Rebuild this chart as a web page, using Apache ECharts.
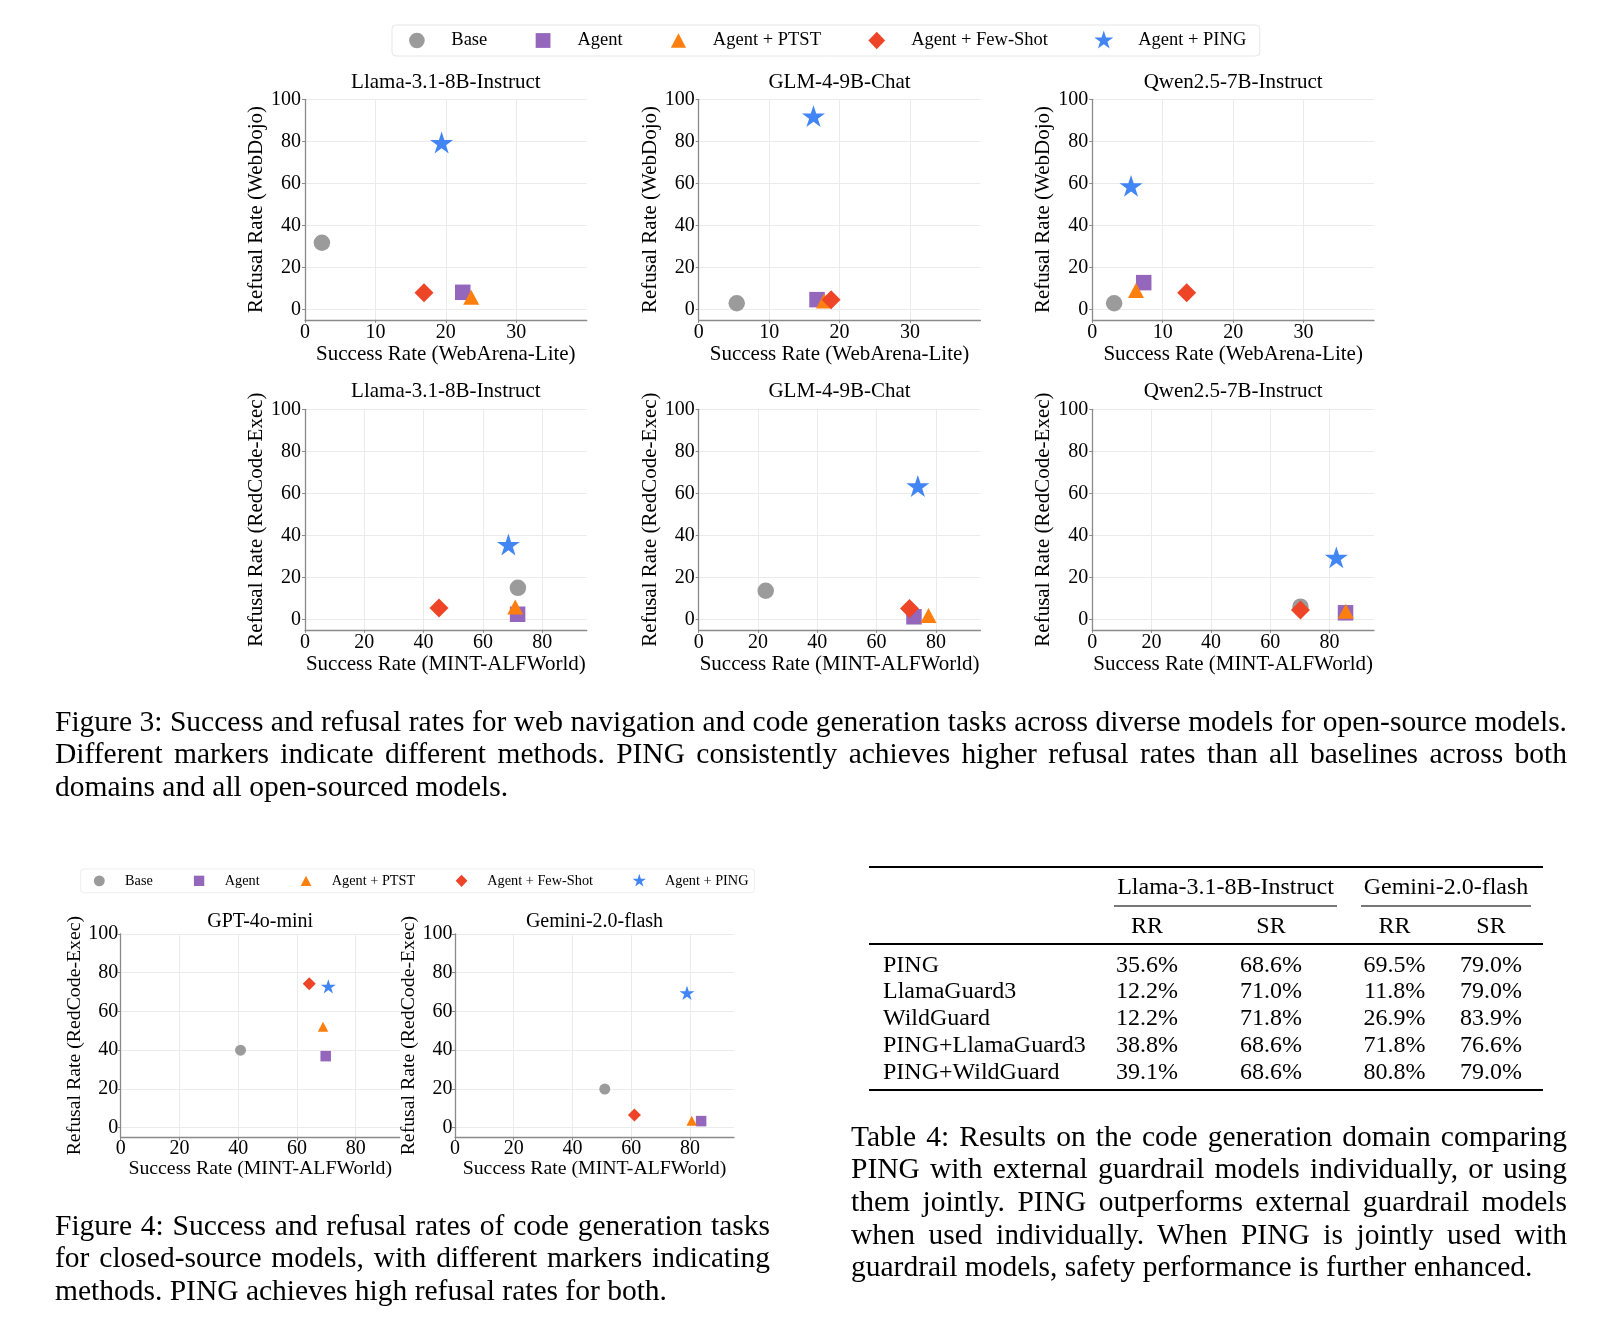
<!DOCTYPE html>
<html>
<head>
<meta charset="utf-8">
<script src="https://cdn.jsdelivr.net/npm/echarts@6/dist/echarts.min.js"></script>
<style>
html,body{margin:0;padding:0;background:#fff;overflow:hidden;width:1622px;height:1338px;}
#chart{position:absolute;left:0;top:0;width:1622px;height:1338px;}
.txt{position:absolute;font-family:'Liberation Serif','Times New Roman',serif;color:#000;}
.cap{font-size:29.5px;line-height:32.7px;}
.cap div{white-space:nowrap;}
.cap div.j{white-space:normal;text-align:justify;text-align-last:justify;word-spacing:-3px;}
.cell{position:absolute;font-family:'Liberation Serif','Times New Roman',serif;font-size:24px;line-height:30px;white-space:nowrap;color:#000;}
.rule{position:absolute;background:#000;}
</style>
</head>
<body>
<div id="chart"></div>
<div id="overlay"></div>
<script>
// ---------------- DATA ----------------
const methods = ['Base', 'Agent', 'Agent + PTST', 'Agent + Few-Shot', 'Agent + PING'];

// [success rate, refusal rate] per method (order as in methods)
const webLlama   = [[2.4, 31.7], [22.4, 8.1], [23.6, 5.7], [16.9, 7.9], [19.4, 79.4]];
const webGLM     = [[5.4, 2.9], [16.8, 4.6], [17.8, 4.0], [18.8, 4.5], [16.3, 92.0]];
const webQwen    = [[3.1, 2.9], [7.3, 12.7], [6.2, 8.9], [13.4, 7.9], [5.5, 58.8]];
const codeLlama  = [[71.8, 15.0], [71.7, 2.4], [70.9, 5.8], [45.2, 5.4], [68.6, 35.6]];
const codeGLM    = [[22.6, 13.6], [72.6, 1.2], [77.5, 1.8], [71.1, 5.2], [73.9, 63.5]];
const codeQwen   = [[70.2, 6.0], [85.4, 3.1], [85.5, 3.8], [70.2, 4.4], [82.3, 29.5]];
const codeGPT    = [[40.8, 40.0], [69.8, 36.9], [68.9, 52.0], [64.2, 74.3], [70.7, 72.9]];
const codeGemini = [[51.0, 19.9], [83.8, 3.4], [80.6, 3.6], [61.1, 6.5], [79.0, 69.5]];

const webXTicks  = [0, 10, 20, 30];
const codeXTicks = [0, 20, 40, 60, 80];
const yTicks     = [0, 20, 40, 60, 80, 100];

const panelTitles = ['Llama-3.1-8B-Instruct', 'GLM-4-9B-Chat', 'Qwen2.5-7B-Instruct',
                     'Llama-3.1-8B-Instruct', 'GLM-4-9B-Chat', 'Qwen2.5-7B-Instruct',
                     'GPT-4o-mini', 'Gemini-2.0-flash'];
const panelData = [webLlama, webGLM, webQwen, codeLlama, codeGLM, codeQwen, codeGPT, codeGemini];
const webXName = 'Success Rate (WebArena-Lite)';
const codeXName = 'Success Rate (MINT-ALFWorld)';
const webYName = 'Refusal Rate (WebDojo)';
const codeYName = 'Refusal Rate (RedCode-Exec)';

// table
const tableMethods = ['PING', 'LlamaGuard3', 'WildGuard', 'PING+LlamaGuard3', 'PING+WildGuard'];
const tableModels = ['Llama-3.1-8B-Instruct', 'Gemini-2.0-flash'];
const tableMetrics = ['RR', 'SR', 'RR', 'SR'];
const llamaRR  = ['35.6%', '12.2%', '12.2%', '38.8%', '39.1%'];
const llamaSR  = ['68.6%', '71.0%', '71.8%', '68.6%', '68.6%'];
const geminiRR = ['69.5%', '11.8%', '26.9%', '71.8%', '80.8%'];
const geminiSR = ['79.0%', '79.0%', '83.9%', '76.6%', '79.0%'];

const fig3Caption = [
  'Figure 3: Success and refusal rates for web navigation and code generation tasks across diverse models for open-source models.',
  'Different markers indicate different methods. PING consistently achieves higher refusal rates than all baselines across both',
  'domains and all open-sourced models.'
];
const fig4Caption = [
  'Figure 4: Success and refusal rates of code generation tasks',
  'for closed-source models, with different markers indicating',
  'methods. PING achieves high refusal rates for both.'
];
const tableCaption = [
  'Table 4: Results on the code generation domain comparing',
  'PING with external guardrail models individually, or using',
  'them jointly. PING outperforms external guardrail models',
  'when used individually. When PING is jointly used with',
  'guardrail models, safety performance is further enhanced.'
];

// ---------------- STYLE / LAYOUT ----------------
const FONT = 'Liberation Serif';
const colors = ['#9b9b9b', '#9467bd', '#ff7f0e', '#ee4427', '#4285f4'];
function starPts(R) {
  let p = '';
  for (let i = 0; i < 10; i++) {
    const r = i % 2 ? 0.382 * R : R;
    const a = -Math.PI / 2 + i * Math.PI / 5;
    p += (i ? 'L' : 'M') + (r * Math.cos(a)).toFixed(4) + ' ' + (r * Math.sin(a)).toFixed(4) + ' ';
  }
  return p + 'Z';
}
const starPath = 'path://' + starPts(1);
const symbols = ['circle', 'rect', 'triangle', 'diamond', starPath];
const bigSizes = [16.5, 15.5, [16, 15], [19, 19], 23];
const smallSizes = [11, 10.5, [10.5, 10], [13, 13], 15];

// legend icons: shapes inside a fixed [-1,1] box so relative sizes follow the reference
const BOX = 'M-1 -1 M1 1 ';
const legendIcons = [
  'path://' + BOX + 'M0.78 0 A0.78 0.78 0 1 1 -0.78 0 A0.78 0.78 0 1 1 0.78 0 Z',
  'path://' + BOX + 'M-0.74 -0.74 L0.74 -0.74 L0.74 0.74 L-0.74 0.74 Z',
  'path://' + BOX + 'M0 -0.72 L0.76 0.72 L-0.76 0.72 Z',
  'path://' + BOX + 'M0 -0.88 L0.84 0 L0 0.88 L-0.84 0 Z',
  'path://' + BOX + starPts(1)
];
const legendData = methods.map(function (m, k) { return { name: m, icon: legendIcons[k] }; });

const topCols = [305, 698.7, 1092.3];
const layouts = [];
for (let r = 0; r < 2; r++) {
  for (let c = 0; c < 3; c++) {
    layouts.push({ left: topCols[c], top: r === 0 ? 99.3 : 409.3, width: 281.7, height: 220.5,
      sizes: bigSizes, tickFs: 20, nameFs: 21, titleFs: 21, xNameGap: 24, yNameGap: 37.5,
      xLabelMargin: 3, yLabelMargin: 4, titleY: r === 0 ? 82.7 : 391.7 });
  }
}
[120.7, 455].forEach(function (l) {
  layouts.push({ left: l, top: 933.8, width: 279, height: 203.6,
    sizes: smallSizes, tickFs: 20, nameFs: 19.8, titleFs: 20, xNameGap: 21, yNameGap: 34,
    xLabelMargin: 1, yLabelMargin: 2.4, titleY: 921.7 });
});

const grids = [], xAxes = [], yAxes = [], series = [], graphics = [];
panelData.forEach(function (data, i) {
  const L = layouts[i];
  const isWeb = i < 3;
  grids.push({ left: L.left, top: L.top, width: L.width, height: L.height, containLabel: false });
  const axisLine = { show: true, onZero: false, lineStyle: { color: '#8a8a8a', width: 1.3 } };
  const tickStyle = { color: '#8a8a8a', width: 1 };
  const splitLine = { show: true, lineStyle: { color: '#ebebeb', width: 1 } };
  const xt = isWeb ? webXTicks : codeXTicks;
  xAxes.push({
    gridIndex: i, type: 'value', min: 0, max: isWeb ? 40 : 95,
    name: isWeb ? webXName : codeXName, nameLocation: 'middle', nameGap: L.xNameGap,
    nameTextStyle: { fontFamily: FONT, fontSize: L.nameFs, color: '#000' },
    axisLine: axisLine,
    axisTick: { show: true, length: 3, customValues: xt, lineStyle: tickStyle },
    axisLabel: { customValues: xt, margin: L.xLabelMargin, fontFamily: FONT, fontSize: L.tickFs, color: '#000' },
    splitLine: splitLine
  });
  yAxes.push({
    gridIndex: i, type: 'value', min: -5, max: 100,
    name: isWeb ? webYName : codeYName, nameLocation: 'middle', nameGap: L.yNameGap,
    nameTextStyle: { fontFamily: FONT, fontSize: L.nameFs, color: '#000' },
    axisLine: axisLine,
    axisTick: { show: true, length: 3, customValues: yTicks, lineStyle: tickStyle },
    axisLabel: { customValues: yTicks, margin: L.yLabelMargin, fontFamily: FONT, fontSize: L.tickFs, color: '#000' },
    splitLine: splitLine
  });
  methods.forEach(function (m, k) {
    series.push({
      type: 'scatter', name: m, xAxisIndex: i, yAxisIndex: i,
      data: [data[k]], symbol: symbols[k], symbolSize: L.sizes[k], symbolKeepAspect: true,
      itemStyle: { color: colors[k], opacity: 1 },
      emphasis: { disabled: true }, z: 3
    });
  });
  graphics.push({
    type: 'text', x: L.left + L.width / 2, y: L.titleY,
    style: { text: panelTitles[i], fontFamily: FONT, fontSize: L.titleFs, fill: '#000',
      textAlign: 'center', textVerticalAlign: 'middle', align: 'center', verticalAlign: 'middle' }
  });
});

const chart = echarts.init(document.getElementById('chart'), null, { renderer: 'canvas' });
chart.setOption({
  animation: false,
  backgroundColor: '#fff',
  grid: grids, xAxis: xAxes, yAxis: yAxes, series: series,
  graphic: graphics,
  legend: [
    { data: legendData, left: 392, top: 25, orient: 'horizontal', selectedMode: false,
      itemWidth: 20, itemHeight: 20, itemGap: 45.8, padding: [5.5, 13.5, 5.5, 14.9],
      borderColor: '#e6e6e6', borderWidth: 1, borderRadius: 4,
      textStyle: { fontFamily: FONT, fontSize: 18.5, color: '#000', padding: [0, 0, 0, 19.4] } },
    { data: legendData, left: 80.7, top: 869, orient: 'horizontal', selectedMode: false,
      itemWidth: 14, itemHeight: 14, itemGap: 39.3, padding: [4.85, 6, 4.85, 11.6],
      borderColor: '#eeeeee', borderWidth: 1, borderRadius: 3,
      textStyle: { fontFamily: FONT, fontSize: 14.3, color: '#000', padding: [0, 0, 0, 13.7] } }
  ]
});

// ---------------- HTML text: captions and table ----------------
const ov = document.getElementById('overlay');
function addCaption(lines, left, width, firstCenter) {
  const d = document.createElement('div');
  d.className = 'txt cap';
  d.style.left = left + 'px';
  d.style.width = width + 'px';
  d.style.top = (firstCenter - 32.7 / 2) + 'px';
  lines.forEach(function (t, i) {
    const ln = document.createElement('div');
    if (i < lines.length - 1) ln.className = 'j';
    ln.textContent = t;
    d.appendChild(ln);
  });
  ov.appendChild(d);
}
addCaption(fig3Caption, 55, 1512, 721);
addCaption(fig4Caption, 55, 715, 1225);
addCaption(tableCaption, 851, 716, 1136);

function cell(text, x, y, align) {
  const c = document.createElement('div');
  c.className = 'cell';
  c.textContent = text;
  c.style.top = (y - 15) + 'px';
  if (align === 'left') { c.style.left = x + 'px'; }
  else { c.style.left = x + 'px'; c.style.transform = 'translateX(-50%)'; }
  ov.appendChild(c);
}
function rule(x1, x2, y, th, color) {
  const r = document.createElement('div');
  r.className = 'rule';
  r.style.left = x1 + 'px'; r.style.width = (x2 - x1) + 'px';
  r.style.top = (y - th / 2) + 'px'; r.style.height = th + 'px';
  if (color) r.style.background = color;
  ov.appendChild(r);
}
const tblLeft = 869, tblRight = 1543;
const colCenters = [1147, 1271, 1394.6, 1491];
rule(tblLeft, tblRight, 867, 2.6);
cell(tableModels[0], 1225.5, 885.5, 'center');
cell(tableModels[1], 1446, 885.5, 'center');
rule(1114, 1337, 906, 1.3, '#777');
rule(1361, 1531, 906, 1.3, '#777');
tableMetrics.forEach(function (m, j) { cell(m, colCenters[j], 924.5, 'center'); });
rule(tblLeft, tblRight, 944, 1.6);
const cols = [llamaRR, llamaSR, geminiRR, geminiSR];
tableMethods.forEach(function (m, i) {
  const y = 963.5 + i * 26.9;
  cell(m, 883, y, 'left');
  cols.forEach(function (col, j) { cell(col[i], colCenters[j], y, 'center'); });
});
rule(tblLeft, tblRight, 1090, 2.6);
</script>
</body>
</html>
